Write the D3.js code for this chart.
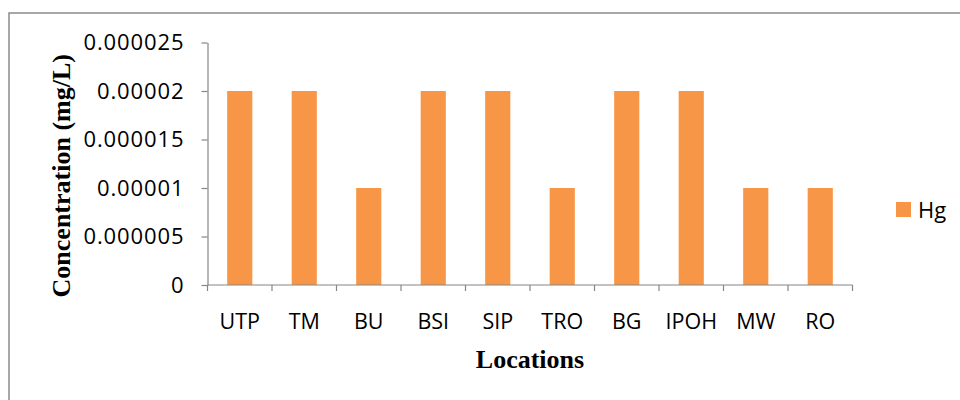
<!DOCTYPE html>
<html>
<head>
<meta charset="utf-8">
<script src="https://cdn.jsdelivr.net/npm/d3@7"></script>
<style>
  html, body { margin: 0; padding: 0; background: #fff; }
  svg { display: block; }
</style>
</head>
<body>
<svg id="chart" width="960" height="400"></svg>
<script>
// Mercury (Hg) concentration by sampling location
const locations = ["UTP", "TM", "BU", "BSI", "SIP", "TRO", "BG", "IPOH", "MW", "RO"];
const hgValues = [0.00002, 0.00002, 0.00001, 0.00002, 0.00002, 0.00001, 0.00002, 0.00002, 0.00001, 0.00001];
const yTickValues = [0, 0.000005, 0.00001, 0.000015, 0.00002, 0.000025];
const yTickLabels = ["0", "0.000005", "0.00001", "0.000015", "0.00002", "0.000025"];
const seriesName = "Hg";

const svg = d3.select("#chart");
const axisColor = "#868686";
const barColor = "#F79646";
const sansFont = "'Open Sans', 'Noto Sans', sans-serif";
const serifFont = "'Liberation Serif', 'DejaVu Serif', serif";

// outer frame
svg.append("rect")
  .attr("x", 9).attr("y", 13)
  .attr("width", 960).attr("height", 400)
  .attr("fill", "none")
  .attr("stroke", "#8a8a8a")
  .attr("stroke-width", 1.5);

const plot = { left: 207.5, right: 852.5, top: 42.5, bottom: 285 };

const x = d3.scaleBand()
  .domain(locations)
  .range([plot.left, plot.right])
  .paddingInner(0.61)
  .paddingOuter(0.305);

const y = d3.scaleLinear()
  .domain([0, 0.000025])
  .range([plot.bottom, plot.top]);

// bars
svg.append("g")
  .selectAll("rect")
  .data(locations.map((loc, i) => ({ loc, v: hgValues[i] })))
  .join("rect")
  .attr("x", d => x(d.loc))
  .attr("y", d => y(d.v))
  .attr("width", x.bandwidth())
  .attr("height", d => y(0) - y(d.v))
  .attr("fill", barColor);

// y axis
const yAxis = d3.axisLeft(y)
  .tickValues(yTickValues)
  .tickFormat((d, i) => yTickLabels[i])
  .tickSize(6)
  .tickPadding(17)
  .tickSizeOuter(0);

const gy = svg.append("g")
  .attr("transform", `translate(${plot.left},0)`)
  .call(yAxis);
gy.select(".domain").attr("stroke", axisColor).attr("stroke-width", 1.2);
gy.selectAll(".tick line").attr("stroke", axisColor).attr("stroke-width", 1.2);
gy.selectAll(".tick text")
  .attr("fill", "#000")
  .style("font-family", sansFont)
  .style("font-size", "22px")
  .style("letter-spacing", "0.9px");

// x axis: ticks on category boundaries
const xAxisG = svg.append("g").attr("transform", `translate(0,${plot.bottom})`);
xAxisG.append("line")
  .attr("x1", plot.left).attr("x2", plot.right)
  .attr("y1", 0).attr("y2", 0)
  .attr("stroke", axisColor).attr("stroke-width", 1.2);

const step = x.step();
const boundaries = d3.range(locations.length + 1).map(i => plot.left + i * step);
xAxisG.selectAll("line.tick")
  .data(boundaries)
  .join("line")
  .attr("class", "tick")
  .attr("x1", d => d).attr("x2", d => d)
  .attr("y1", 0).attr("y2", 6)
  .attr("stroke", axisColor).attr("stroke-width", 1.2);

xAxisG.selectAll("text")
  .data(locations)
  .join("text")
  .attr("x", d => x(d) + x.bandwidth() / 2)
  .attr("y", 44)
  .attr("text-anchor", "middle")
  .attr("fill", "#000")
  .style("font-family", sansFont)
  .style("font-size", "21.5px")
  .text(d => d);

// axis titles
svg.append("text")
  .attr("x", (plot.left + plot.right) / 2)
  .attr("y", 368)
  .attr("text-anchor", "middle")
  .style("font-family", serifFont)
  .style("font-weight", "bold")
  .style("font-size", "26px")
  .text("Locations");

svg.append("text")
  .attr("transform", `translate(70,${(plot.top + plot.bottom) / 2 + 12}) rotate(-90)`)
  .attr("text-anchor", "middle")
  .style("font-family", serifFont)
  .style("font-weight", "bold")
  .style("font-size", "26px")
  .text("Concentration (mg/L)");

// legend
const legend = svg.append("g").attr("transform", "translate(896,202)");
legend.append("rect")
  .attr("width", 15).attr("height", 15)
  .attr("fill", barColor);
legend.append("text")
  .attr("x", 22).attr("y", 15.5)
  .style("font-family", sansFont)
  .style("font-size", "22px")
  .text(seriesName);
</script>
</body>
</html>
